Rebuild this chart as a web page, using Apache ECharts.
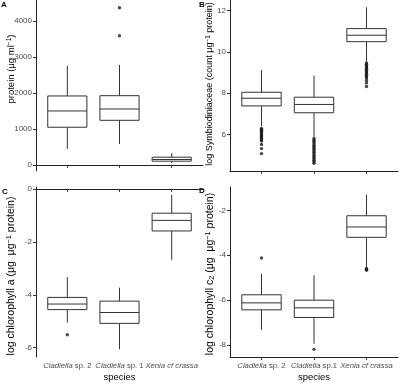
<!DOCTYPE html>
<html>
<head>
<meta charset="utf-8">
<script src="https://cdn.jsdelivr.net/npm/echarts@6/dist/echarts.min.js"></script>
<style>
  html, body { margin: 0; padding: 0; background: #fff; }
  #chart { width: 400px; height: 385px; }
</style>
</head>
<body>
<div id="chart"></div>
<script>
// categories (x positions 1, 2, 3)
const species = ['{i|Cladiella} sp. 2', '{i|Cladiella} sp. 1', '{i|Xenia cf crassa}'];
const speciesD = ['{i|Cladiella} sp. 2', '{i|Cladiella} sp.1', '{i|Xenia cf crassa}'];

// boxes: [min whisker, Q1, median, Q3, max whisker] per species
const proteinBoxes = [[444, 1047, 1500, 1917, 2750], [583, 1240, 1555, 1925, 2780], [47, 103, 150, 214, 325]];
const proteinOutliers = [[2, 3590], [2, 4370]];
const proteinTicks = [0, 1000, 2000, 3000, 4000];

const symBoxes = [[6.41, 7.39, 7.76, 8.05, 9.12], [5.90, 7.06, 7.46, 7.81, 8.85], [9.54, 10.49, 10.80, 11.12, 12.15]];
const symOut1 = [6.30, 6.25, 6.20, 6.15, 6.10, 6.05, 6.00, 5.95, 5.90, 5.85, 5.80, 5.75, 5.70, 5.53, 5.33, 5.09];
const symOut2 = [5.82, 5.75, 5.68, 5.60, 5.52, 5.45, 5.37, 5.30, 5.22, 5.15, 5.07, 5.00, 4.92, 4.85, 4.77, 4.70, 4.62];
const symOut3 = [9.46, 9.40, 9.34, 9.28, 9.22, 9.16, 9.10, 9.04, 8.98, 8.92, 8.86, 8.80, 8.74, 8.62, 8.50, 8.33];
const symTicks = [6, 8, 10, 12];

const chlaBoxes = [[-5.05, -4.56, -4.35, -4.10, -3.33], [-6.06, -5.08, -4.67, -4.24, -3.73], [-2.68, -1.59, -1.19, -0.92, -0.22]];
const chlaOutliers = [[1, -5.51]];
const chlaTicks = [-6, -4, -2, 0];

const chlcBoxes = [[-7.32, -6.43, -6.12, -5.76, -4.83], [-7.94, -6.77, -6.34, -6.00, -4.89], [-4.55, -3.20, -2.74, -2.24, -1.30]];
const chlcOutliers = [[1, -4.12], [2, -8.19], [3, -4.59], [3, -4.63], [3, -4.67]];
const chlcTicks = [-8, -6, -4, -2];

const FONT = 'Liberation Sans, Arial, sans-serif';
const chart = echarts.init(document.getElementById('chart'));

function renderBox(params, api) {
  const x = api.value(0);
  const p = [1, 2, 3, 4, 5].map(d => api.coord([x, api.value(d)]));
  const half = api.size([0.75, 0])[0] / 2;
  const cx = p[0][0];
  const st = { stroke: '#333', lineWidth: 1, fill: null };
  return {
    type: 'group',
    children: [
      { type: 'line', shape: { x1: cx, y1: p[4][1], x2: cx, y2: p[3][1] }, style: st },
      { type: 'line', shape: { x1: cx, y1: p[1][1], x2: cx, y2: p[0][1] }, style: st },
      { type: 'rect', shape: { x: cx - half, y: p[3][1], width: half * 2, height: p[1][1] - p[3][1] },
        style: { stroke: '#333', lineWidth: 1, fill: '#fff' } },
      { type: 'line', shape: { x1: cx - half, y1: p[2][1], x2: cx + half, y2: p[2][1] }, style: st }
    ]
  };
}

function xAxisFor(idx, labels) {
  return {
    type: 'value', gridIndex: idx, min: 0.4, max: 3.6,
    axisLine: { show: true, lineStyle: { color: '#222', width: 1 } },
    axisTick: { show: true, customValues: [1, 2, 3], length: 3, lineStyle: { color: '#333' } },
    axisLabel: labels ? {
      customValues: [1, 2, 3], margin: 5, fontSize: 7.7, color: '#4d4d4d', fontFamily: FONT,
      formatter: v => labels[Math.round(v) - 1],
      rich: { i: { fontStyle: 'italic', fontSize: 7.7, color: '#4d4d4d', fontFamily: FONT } }
    } : { show: false },
    splitLine: { show: false },
    name: labels ? 'species' : '', nameLocation: 'middle', nameGap: 15,
    nameTextStyle: { fontSize: 9.5, color: '#000', fontFamily: FONT }
  };
}

function yAxisFor(idx, min, max, ticks) {
  return {
    type: 'value', gridIndex: idx, min: min, max: max,
    axisLine: { show: true, lineStyle: { color: '#222', width: 1 } },
    axisTick: { show: true, customValues: ticks, length: 3, lineStyle: { color: '#333' } },
    axisLabel: {
      customValues: ticks, margin: 4, fontSize: 8, color: '#4d4d4d', fontFamily: FONT,
      formatter: v => String(v)
    },
    splitLine: { show: false }
  };
}

function boxSeries(idx, boxes) {
  return {
    type: 'custom', xAxisIndex: idx, yAxisIndex: idx,
    renderItem: renderBox,
    encode: { x: 0, y: [1, 2, 3, 4, 5] },
    data: boxes.map((b, i) => [i + 1].concat(b))
  };
}

function outlierSeries(idx, pts) {
  return {
    type: 'scatter', xAxisIndex: idx, yAxisIndex: idx,
    symbolSize: 3.4, itemStyle: { color: '#1a1a1a' },
    data: pts
  };
}

function yTitle(x, y, text, size) {
  return {
    type: 'text', x: x, y: y, rotation: Math.PI / 2,
    style: {
      text: text, align: 'center', verticalAlign: 'middle', fill: '#000',
      fontSize: size, fontFamily: FONT,
      rich: {
        n: { fontSize: size, fill: '#000', fontFamily: FONT },
        s: { fontSize: size * 0.7, fill: '#000', fontFamily: FONT, verticalAlign: 'top' },
        b: { fontSize: size * 0.7, fill: '#000', fontFamily: FONT, verticalAlign: 'bottom' }
      }
    }
  };
}

function letter(x, y, t) {
  return { type: 'text', x: x, y: y, style: { text: t, fontSize: 8, fontWeight: 'bold', fill: '#000', fontFamily: FONT } };
}

const pts = (cat, vals) => vals.map(v => [cat, v]);

chart.setOption({
  animation: false,
  grid: [
    { left: 36, top: 0, width: 167, height: 171, outerBoundsMode: 'none' },
    { left: 230, top: 0, width: 168, height: 171, outerBoundsMode: 'none' },
    { left: 36, top: 187, width: 167, height: 170, outerBoundsMode: 'none' },
    { left: 230, top: 187, width: 168, height: 170, outerBoundsMode: 'none' }
  ],
  xAxis: [xAxisFor(0, null), xAxisFor(1, null), xAxisFor(2, species), xAxisFor(3, speciesD)],
  yAxis: [
    yAxisFor(0, -170, 4586, proteinTicks),
    yAxisFor(1, 4.25, 12.5, symTicks),
    yAxisFor(2, -6.35, 0.07, chlaTicks),
    yAxisFor(3, -8.53, -0.96, chlcTicks)
  ],
  series: [
    boxSeries(0, proteinBoxes), outlierSeries(0, proteinOutliers),
    boxSeries(1, symBoxes),
    outlierSeries(1, pts(1, symOut1).concat(pts(2, symOut2), pts(3, symOut3))),
    boxSeries(2, chlaBoxes), outlierSeries(2, chlaOutliers),
    boxSeries(3, chlcBoxes), outlierSeries(3, chlcOutliers)
  ],
  graphic: [
    letter(1, 1, 'A'), letter(199, 1, 'B'), letter(2, 188, 'C'), letter(199, 187, 'D'),
    yTitle(11, 69, '{n|protein (μg ml}{s|−1}{n|)}', 9.5),
    yTitle(210, 84, '{n|log Symbiodiniaceae (count μg}{s|−1}{n| protein)}', 9),
    yTitle(11, 276, '{n|log chlorophyll }{n|a}{n| (μg  μg}{s|−1}{n| protein)}', 10.5),
    yTitle(210, 274, '{n|log chlorophyll c}{b|2}{n| (μg  μg}{s|−1}{n| protein)}', 10.5)
  ]
});
</script>
</body>
</html>
